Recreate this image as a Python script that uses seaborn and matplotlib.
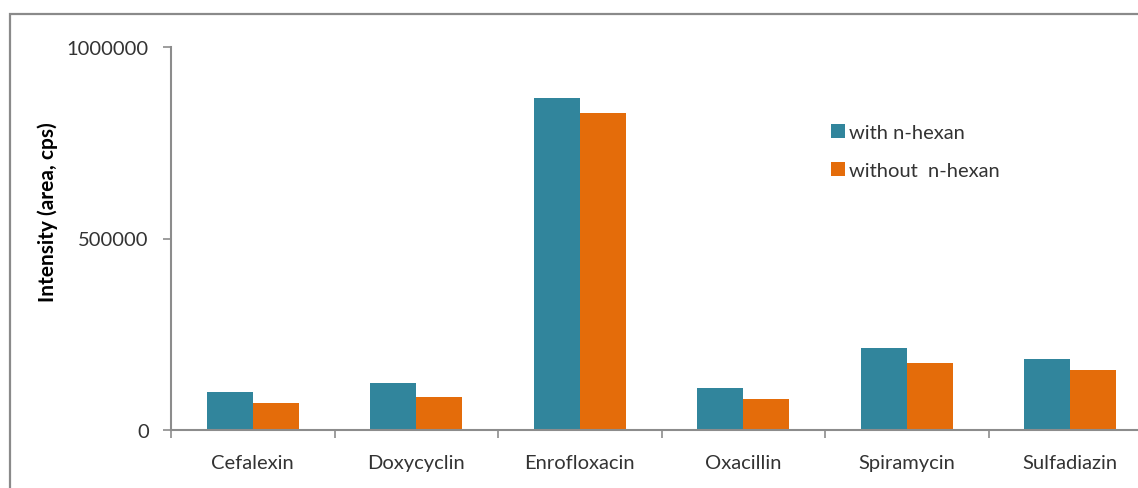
import matplotlib
matplotlib.use("Agg")
import matplotlib.pyplot as plt
from matplotlib.patches import Patch, Rectangle
from matplotlib.ticker import FixedLocator
import pandas as pd
import seaborn as sns

# Antibiotic peak intensities (area, cps) with and without n-hexane clean-up
compounds = ["Cefalexin", "Doxycyclin", "Enrofloxacin", "Oxacillin", "Spiramycin", "Sulfadiazin"]
with_hexan = [99000, 123000, 867000, 110000, 214000, 185000]
without_hexan = [70000, 86000, 828000, 81000, 175000, 157000]
series_names = ["with n-hexan", "without  n-hexan"]
y_ticks = [0, 500000, 1000000]

df = pd.DataFrame({
    "compound": compounds * 2,
    "intensity": with_hexan + without_hexan,
    "series": [series_names[0]] * len(compounds) + [series_names[1]] * len(compounds),
})

sns.set_theme(style="white")
plt.rcParams["font.family"] = ["Lato", "DejaVu Sans"]

text_color = "#333333"
axis_color = "#8c8c8c"
colors = ["#31859C", "#E46C0A"]

fig = plt.figure(figsize=(11.38, 4.89), dpi=100)
W, H = 1138, 489
ax = fig.add_axes([171 / W, 1 - 431 / H, (1152 - 171) / W, (431 - 48) / H])

sns.barplot(data=df, x="compound", y="intensity", hue="series",
            hue_order=series_names, palette=colors, order=compounds,
            width=0.56, gap=0, saturation=1, edgecolor="none", linewidth=0,
            errorbar=None, legend=False, ax=ax)

ax.set_xlim(-0.5, len(compounds) - 0.5)
ax.set_ylim(0, 1000000)
ax.set_yticks(y_ticks)
ax.set_yticklabels([str(v) for v in y_ticks])
ax.set_xlabel("")
ax.set_ylabel("Intensity (area, cps)", fontsize=15, fontweight="bold",
              color="black", labelpad=0)
ax.yaxis.set_label_coords(-0.115, 0.572)

# category labels at centres, tick marks at category boundaries
ax.xaxis.set_minor_locator(FixedLocator([i - 0.5 for i in range(len(compounds) + 1)]))
ax.tick_params(axis="x", which="major", length=0, pad=17, labelsize=14.5, labelcolor=text_color)
ax.tick_params(axis="x", which="minor", length=6, width=1.2, color=axis_color, direction="out", bottom=True)
ax.tick_params(axis="y", length=6, width=1.2, color=axis_color, direction="out", left=True,
               pad=10, labelsize=14.5, labelcolor=text_color)

for side in ["top", "right"]:
    ax.spines[side].set_visible(False)
for side in ["left", "bottom"]:
    ax.spines[side].set_color(axis_color)
    ax.spines[side].set_linewidth(1.5)

handles = [Patch(facecolor=c, edgecolor="none") for c in colors]
fig.legend(handles, series_names, loc="upper left", bbox_to_anchor=(813 / W, 1 - 107 / H),
           frameon=False, handlelength=0.7, handleheight=0.7, handletextpad=0.2,
           labelspacing=1.05, fontsize=14.5, labelcolor=text_color)

# outer chart frame
fig.patches.append(Rectangle((10 / W, -0.1), 1.2, 1 - 15 / H + 0.1, transform=fig.transFigure,
                             fill=False, edgecolor="#8a8a8a", linewidth=1.6))

fig.savefig("out.png", dpi=100, facecolor="white")
